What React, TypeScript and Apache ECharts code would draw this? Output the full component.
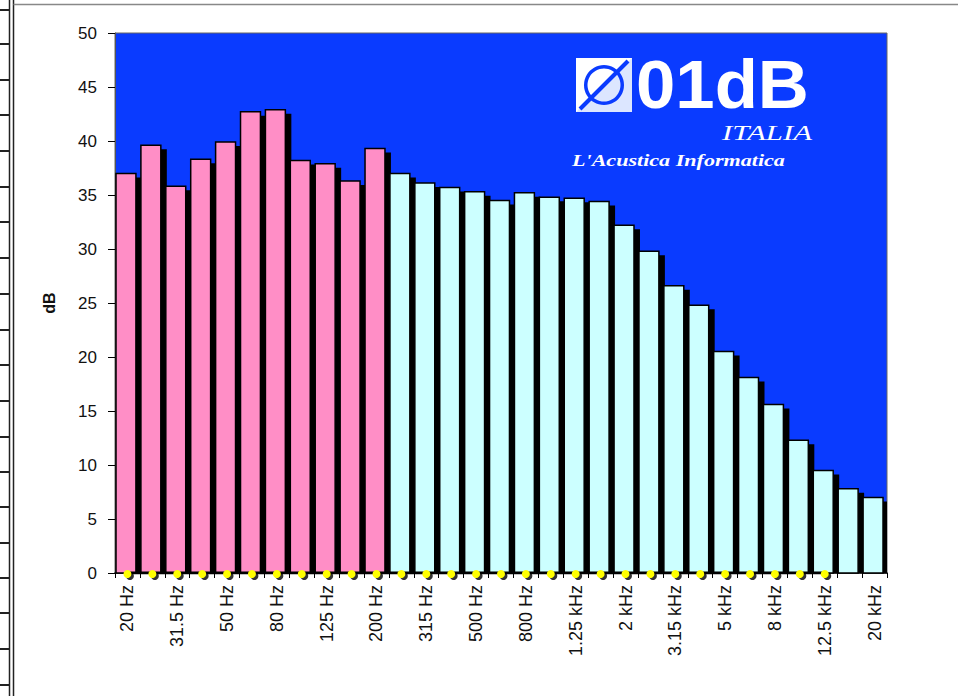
import React, { useEffect, useRef } from "react";
import * as echarts from "echarts";

const bandLabels = [
  "20 Hz", "25 Hz", "31.5 Hz", "40 Hz", "50 Hz", "63 Hz", "80 Hz", "100 Hz",
  "125 Hz", "160 Hz", "200 Hz", "250 Hz", "315 Hz", "400 Hz", "500 Hz", "630 Hz",
  "800 Hz", "1 kHz", "1.25 kHz", "1.6 kHz", "2 kHz", "2.5 kHz", "3.15 kHz", "4 kHz",
  "5 kHz", "6.3 kHz", "8 kHz", "10 kHz", "12.5 kHz", "16 kHz", "20 kHz",
];

// 20 Hz .. 200 Hz (pink)
const lowBandLevels = [37.0, 39.6, 35.8, 38.3, 39.9, 42.7, 42.9, 38.2, 37.9, 36.3, 39.3];
// 250 Hz .. 20 kHz (cyan)
const highBandLevels = [
  37.0, 36.1, 35.7, 35.3, 34.5, 35.2, 34.8, 34.7, 34.4, 32.2,
  29.8, 26.6, 24.8, 20.5, 18.1, 15.6, 12.3, 9.5, 7.8, 7.0,
];
// yellow markers along 0 dB (20 Hz .. 12.5 kHz)
const markerLevels = [
  0, 0, 0, 0, 0, 0, 0, 0, 0, 0, 0, 0, 0, 0, 0,
  0, 0, 0, 0, 0, 0, 0, 0, 0, 0, 0, 0, 0, 0,
];
const yTicks = { min: 0, max: 50, interval: 5 };

const BLUE = "#0A3BFF";
const PINK = "#FF8EC6";
const CYAN = "#CCFFFF";

function makeRender(color: string) {
  return (params: any, api: any) => {
    const i = api.value(0);
    const v = api.value(1);
    const top = api.coord([i, v]);
    const base = api.coord([i, 0]);
    const band = api.size([1, 0])[0];
    const cs = params.coordSys;
    const rightEdge = cs.x + cs.width;
    const bw = band * 0.8;
    const x0 = top[0] - band / 2 + 1;
    const h = base[1] - top[1];
    const sx = x0 + 6;
    const sw = Math.max(0, Math.min(bw, rightEdge - sx));
    return {
      type: "group",
      children: [
        {
          type: "rect",
          shape: { x: sx, y: top[1] + 4, width: sw, height: Math.max(0, h - 4) },
          style: { fill: "#000" },
        },
        {
          type: "rect",
          shape: { x: x0, y: top[1], width: bw, height: h },
          style: { fill: color, stroke: "#000", lineWidth: 1.5 },
        },
      ],
    };
  };
}

const leftRuleYs = [10, 44, 80, 115, 151, 187, 222, 258, 294, 330, 365, 401, 437, 472, 507, 543, 578, 613, 649, 685];

export default function App() {
  const ref = useRef<HTMLDivElement>(null);
  useEffect(() => {
    if (!ref.current) return;
    const chart = echarts.init(ref.current, null, { renderer: "svg" });
    const lowData = lowBandLevels.map((v, i) => [i, v]);
    const highData = highBandLevels.map((v, i) => [i + lowBandLevels.length, v]);
    const decor: any[] = [
      { type: "line", shape: { x1: 9.5, y1: 0, x2: 9.5, y2: 696 }, style: { stroke: "#222", lineWidth: 1.5 } },
      { type: "line", shape: { x1: 13.5, y1: 0, x2: 13.5, y2: 696 }, style: { stroke: "#222", lineWidth: 1.5 } },
      { type: "line", shape: { x1: 13.5, y1: 4.5, x2: 958, y2: 4.5 }, style: { stroke: "#888", lineWidth: 1.5 } },
      ...leftRuleYs.map((y) => ({
        type: "line",
        shape: { x1: 0, y1: y, x2: 9, y2: y },
        style: { stroke: "#222", lineWidth: 2 },
      })),
      // logo icon
      { type: "rect", shape: { x: 576, y: 58, width: 56, height: 54 }, style: { fill: "#FFFFFF" } },
      {
        type: "polygon",
        shape: { points: [[632, 58], [632, 112], [576, 112]] },
        style: { fill: "#DCE6FF" },
      },
      {
        type: "ring",
        shape: { cx: 604, cy: 85, r: 20, r0: 16.5 },
        style: { fill: BLUE },
      },
      {
        type: "line",
        shape: { x1: 580, y1: 109, x2: 628, y2: 61 },
        style: { stroke: BLUE, lineWidth: 4 },
      },
      {
        type: "text",
        x: 636,
        y: 84,
        scaleX: 1.04,
        style: {
          text: "01dB",
          fill: "#FFFFFF",
          font: "bold 68px 'Liberation Sans', Arial, sans-serif",
          textVerticalAlign: "middle",
          textAlign: "left",
        },
      },
      {
        type: "text",
        x: 812,
        y: 133,
        scaleX: 1.4,
        style: {
          text: "ITALIA",
          fill: "#FFFFFF",
          font: "italic 22px 'Liberation Serif', 'Times New Roman', serif",
          textVerticalAlign: "middle",
          textAlign: "right",
        },
      },
      {
        type: "text",
        x: 572,
        y: 160,
        scaleX: 1.3,
        style: {
          text: "L'Acustica Informatica",
          fill: "#FFFFFF",
          font: "bold italic 17px 'Liberation Serif', 'Times New Roman', serif",
          textVerticalAlign: "middle",
          textAlign: "left",
        },
      },
    ];
    chart.setOption({
      animation: false,
      backgroundColor: "#FFFFFF",
      grid: {
        left: 115,
        top: 33,
        right: 71,
        bottom: 123,
        show: true,
        backgroundColor: BLUE,
        borderColor: "#666",
        borderWidth: 1,
      },
      xAxis: {
        type: "category",
        data: bandLabels,
        boundaryGap: true,
        axisLine: { show: true, lineStyle: { color: "#000", width: 1.5 } },
        axisTick: { show: true, interval: 0, length: 5, alignWithLabel: false, lineStyle: { color: "#000" } },
        axisLabel: {
          interval: 1,
          rotate: 90,
          margin: 12,
          color: "#111",
          fontSize: 18,
          fontFamily: "'Liberation Sans', Arial, sans-serif",
        },
        splitLine: { show: false },
      },
      yAxis: {
        type: "value",
        min: yTicks.min,
        max: yTicks.max,
        interval: yTicks.interval,
        name: "dB",
        nameLocation: "middle",
        nameRotate: 90,
        nameGap: 58,
        nameTextStyle: {
          color: "#111",
          fontSize: 16,
          fontWeight: "bold",
          fontFamily: "'Liberation Sans', Arial, sans-serif",
        },
        axisLine: { show: true, lineStyle: { color: "#555", width: 1 } },
        axisTick: { show: true, length: 7, lineStyle: { color: "#000" } },
        axisLabel: {
          margin: 18,
          color: "#111",
          fontSize: 17,
          fontFamily: "'Liberation Sans', Arial, sans-serif",
        },
        splitLine: { show: false },
      },
      series: [
        {
          name: "low",
          type: "custom",
          renderItem: makeRender(PINK),
          encode: { x: 0, y: 1 },
          data: lowData,
          z: 2,
        },
        {
          name: "high",
          type: "custom",
          renderItem: makeRender(CYAN),
          encode: { x: 0, y: 1 },
          data: highData,
          z: 2,
        },
        {
          name: "markerLine",
          type: "line",
          data: markerLevels,
          z: 5,
          showSymbol: false,
          symbol: "none",
          lineStyle: { color: "#000", width: 3 },
          silent: true,
        },
        {
          name: "markerShadow",
          type: "scatter",
          data: markerLevels,
          z: 6,
          symbol: "circle",
          symbolSize: 8,
          symbolOffset: [2.5, 3],
          itemStyle: { color: "#000" },
          silent: true,
        },
        {
          name: "markers",
          type: "scatter",
          data: markerLevels,
          z: 7,
          symbol: "circle",
          symbolSize: 8,
          symbolOffset: [0, 1],
          itemStyle: { color: "#FFFF00", borderWidth: 0, opacity: 1 },
        },
      ],
      graphic: decor,
    });
    return () => chart.dispose();
  }, []);
  return (
    <div
      ref={ref}
      style={{ position: "fixed", left: 0, top: 0, width: 958, height: 696, background: "#fff" }}
    />
  );
}
